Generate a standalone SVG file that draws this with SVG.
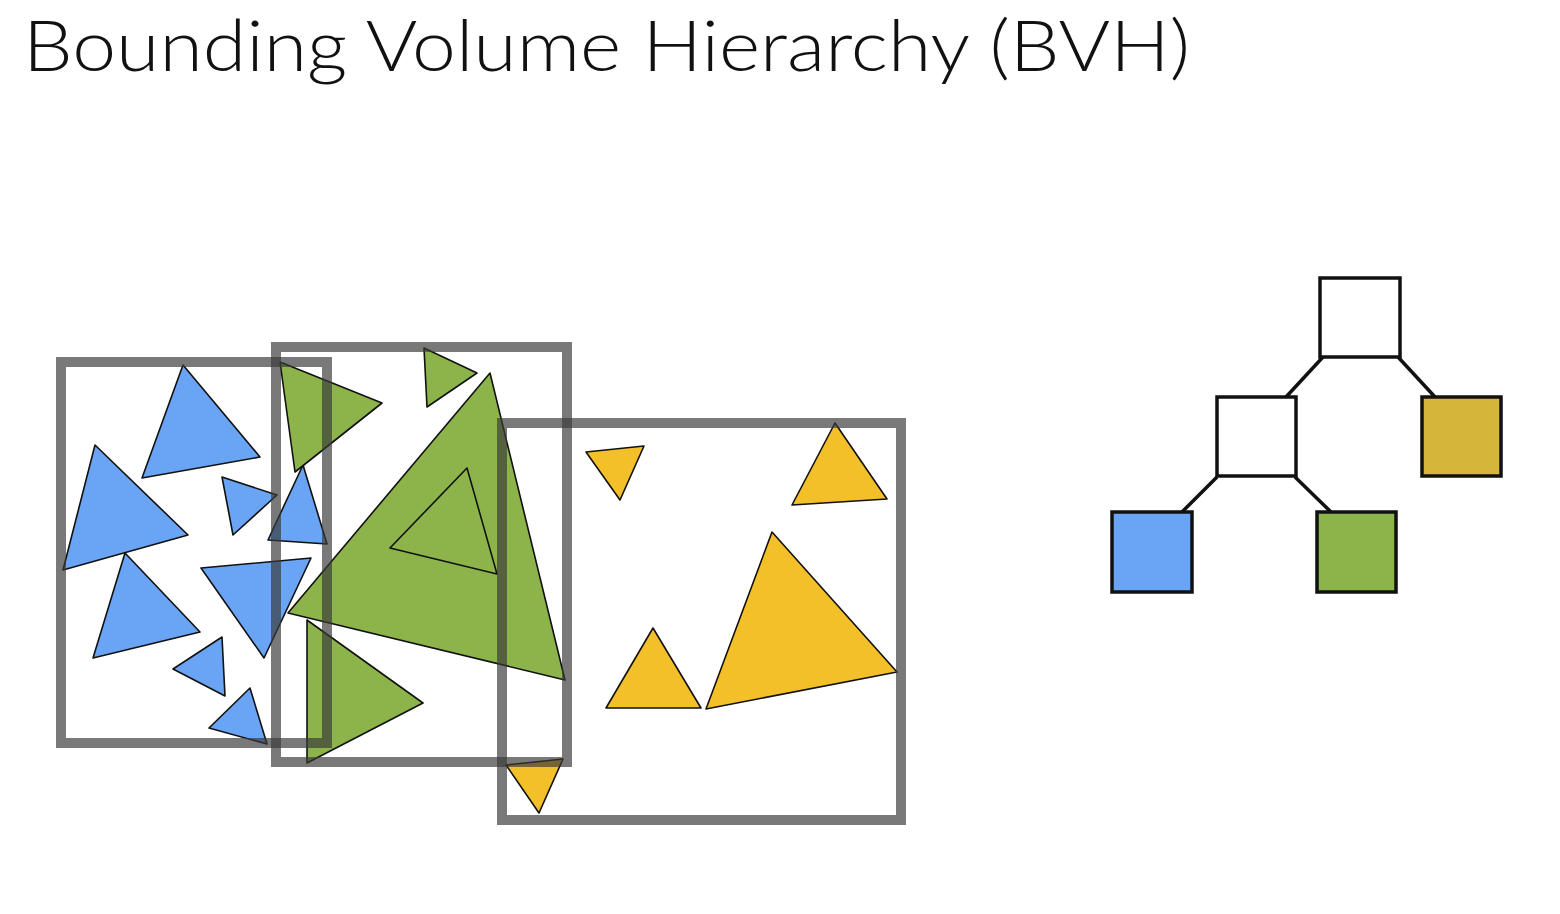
<svg xmlns="http://www.w3.org/2000/svg" width="1560" height="914" viewBox="0 0 1560 914">
<style>
.tri{stroke:#111;stroke-width:1.6;stroke-linejoin:round}
.b{fill:#6aa4f4}
.g{fill:#8db44a}
.y{fill:#f4c02a}
.box{fill:none;stroke:#3a3a3a;stroke-opacity:0.68;stroke-width:10}
.node{stroke:#111;stroke-width:3.5}
.edge{stroke:#111;stroke-width:3.5;fill:none}
.title{font-family:Lato,"Open Sans",sans-serif;font-weight:300;font-size:70px;fill:#111}
</style>
<rect width="1560" height="914" fill="#fff"/>
<text class="title" x="23" y="71" textLength="1167" lengthAdjust="spacingAndGlyphs">Bounding Volume Hierarchy (BVH)</text>

<g id="blue-triangles">
<polygon class="tri b" points="183,365 142,478 260,457"/>
<polygon class="tri b" points="95,445 63,570 188,535"/>
<polygon class="tri b" points="222,477 277,495 233,535"/>
<polygon class="tri b" points="303,465 268,540 327,544"/>
<polygon class="tri b" points="125,553 93,658 200,632"/>
<polygon class="tri b" points="201,568 311,558 264,658"/>
<polygon class="tri b" points="222,637 173,669 225,696"/>
<polygon class="tri b" points="250,688 209,728 267,744"/>
</g>
<g id="green-triangles">
<polygon class="tri g" points="280,362 382,403 295,472"/>
<polygon class="tri g" points="424,348 477,373 427,407"/>
<polygon class="tri g" points="490,373 288,613 565,680"/>
<polygon class="tri g" points="467,468 390,548 497,574"/>
<polygon class="tri g" points="307,620 423,703 307,763"/>
</g>
<g id="yellow-triangles">
<polygon class="tri y" points="586,452 644,446 620,500"/>
<polygon class="tri y" points="835,423 792,505 887,499"/>
<polygon class="tri y" points="653,628 606,708 701,708"/>
<polygon class="tri y" points="772,532 706,709 897,672"/>
<polygon class="tri y" points="506,765 563,759 539,813"/>
</g>
<g id="bounding-boxes">
<rect id="box-blue" class="box" x="61" y="362" width="266" height="381"/>
<rect id="box-green" class="box" x="276" y="347" width="291" height="415"/>
<rect id="box-yellow" class="box" x="502" y="423" width="399" height="397"/>
</g>

<g id="connectors">
<line class="edge" x1="1323" y1="357" x2="1286" y2="397"/>
<line class="edge" x1="1398" y1="357" x2="1435" y2="397"/>
<line class="edge" x1="1217" y1="477" x2="1182" y2="512"/>
<line class="edge" x1="1295" y1="477" x2="1331" y2="512"/>
</g>
<g id="node-root"><rect class="node" x="1320" y="278" width="80" height="79" fill="#fff"/></g>
<g id="node-mid"><rect class="node" x="1217" y="397" width="79" height="79" fill="#fff"/></g>
<g id="node-yellow"><rect class="node" x="1422" y="397" width="79" height="79" fill="#d6b63a"/></g>
<g id="node-blue"><rect class="node" x="1112" y="512" width="80" height="80" fill="#6aa4f4"/></g>
<g id="node-green"><rect class="node" x="1317" y="512" width="79" height="80" fill="#8db44a"/></g>
</svg>
